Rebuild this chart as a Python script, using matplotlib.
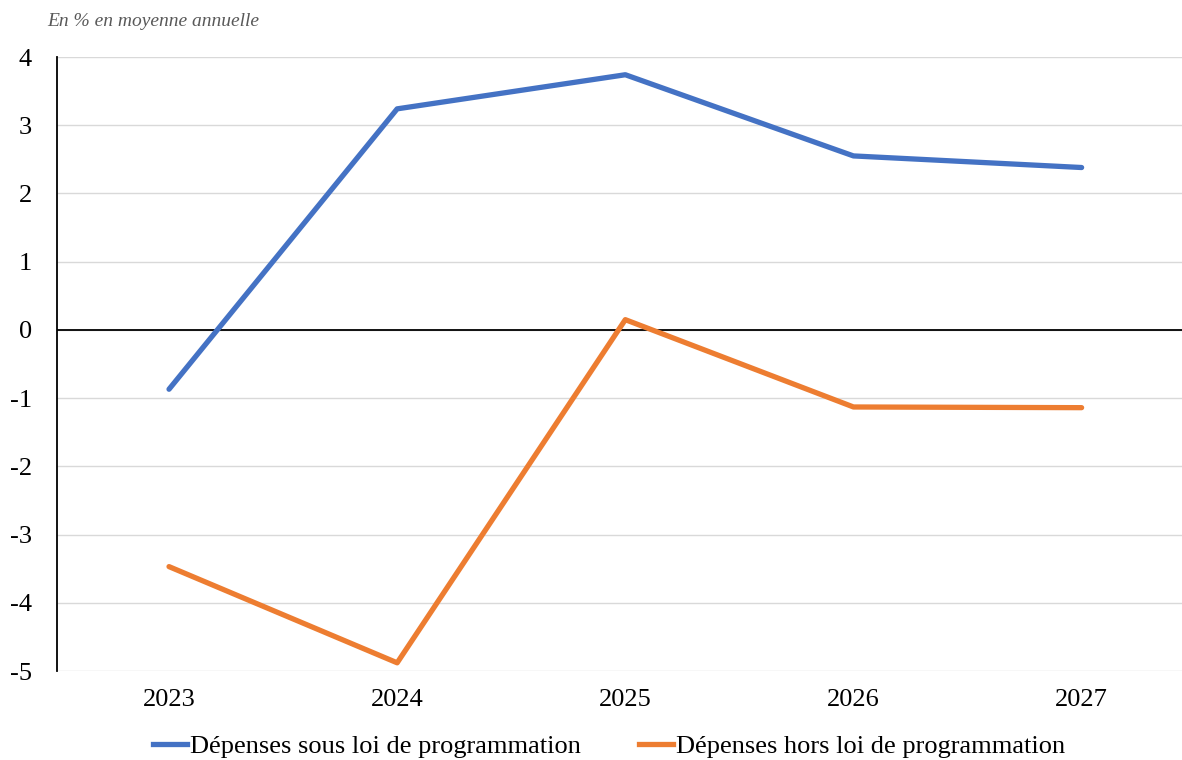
import matplotlib.pyplot as plt
from matplotlib.lines import Line2D

plt.rcParams['font.family'] = ['Liberation Serif', 'DejaVu Serif']

years = ["2023", "2024", "2025", "2026", "2027"]
sous_loi = [-0.87, 3.24, 3.74, 2.55, 2.38]
hors_loi = [-3.47, -4.88, 0.15, -1.13, -1.14]

blue = "#4472C4"
orange = "#ED7D31"

fig = plt.figure(figsize=(11.82, 7.6), dpi=100)
ax = fig.add_axes([57 / 1182, 1 - 671 / 760, 1 - 57 / 1182, 614 / 760])

x = range(len(years))
ax.plot(x, sous_loi, color=blue, lw=3.8, solid_capstyle="round", zorder=3)
ax.plot(x, hors_loi, color=orange, lw=3.8, solid_capstyle="round", zorder=3)

ax.set_xlim(-0.491, 4.44)
ax.set_ylim(-5, 4)
ax.set_yticks(range(-5, 5))
ax.set_yticklabels([str(v) for v in range(-5, 5)])
ax.set_xticks(list(x))
ax.set_xticklabels(years)
ax.tick_params(axis="both", length=0, labelsize=19)
ax.tick_params(axis="y", pad=18)
ax.tick_params(axis="x", pad=13)

ax.grid(axis="y", color="#d9d9d9", lw=1)
ax.set_axisbelow(True)
ax.axhline(0, color="black", lw=1.3, zorder=2)
for side in ["top", "right", "bottom"]:
    ax.spines[side].set_visible(False)
ax.spines["left"].set_linewidth(1.3)

fig.text(47 / 1182, 1 - 22 / 760, "En % en moyenne annuelle", fontsize=14,
         style="italic", color="#595959", va="center", ha="left")

handles = [Line2D([], [], color=blue, lw=3.8),
           Line2D([], [], color=orange, lw=3.8)]
fig.legend(handles, ["Dépenses sous loi de programmation",
                     "Dépenses hors loi de programmation"],
           loc="center", bbox_to_anchor=(609 / 1182, 1 - 746 / 760), ncol=2,
           frameon=False, fontsize=19, handlelength=1.3, handletextpad=0.1,
           columnspacing=2.2)

fig.savefig("out.png", dpi=100)
